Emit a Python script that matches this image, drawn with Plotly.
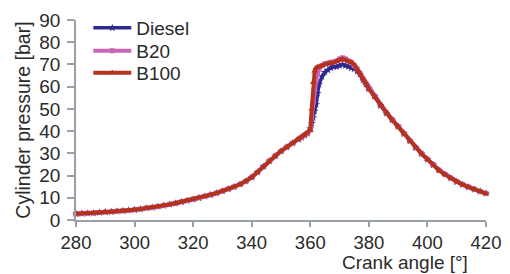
import plotly.graph_objects as go

crank_angle = [280, 282, 284, 286, 288, 290, 292, 294, 296, 298,
               300, 302, 304, 306, 308, 310, 312, 314, 316, 318,
               320, 322, 324, 326, 328, 330, 332, 334, 336, 338,
               340, 342, 344, 346, 348, 350, 352, 354, 356, 357,
               358, 359, 360, 360.5, 361, 361.5, 362, 362.5, 363, 364,
               365, 366, 367, 368, 369, 370, 371, 372, 373, 374,
               375, 376, 377, 378, 379, 380, 382, 384, 386, 388,
               390, 392, 394, 396, 398, 400, 402, 404, 406, 408,
               410, 412, 414, 416, 418, 420]

diesel = [2.8, 2.9, 3.0, 3.1, 3.3, 3.6, 3.7, 3.9, 4.1, 4.3,
          4.6, 4.9, 5.3, 5.6, 6.0, 6.5, 7.0, 7.5, 8.1, 8.7,
          9.3, 9.9, 10.6, 11.3, 12.1, 13.0, 13.9, 14.9, 16.0, 17.4,
          19.2, 21.5, 24.0, 26.5, 28.8, 30.9, 32.8, 34.6, 36.3, 37.2,
          38.1, 39.0, 41.0, 43.5, 46.0, 49.0, 52.0, 57.0, 61.0, 64.5,
          66.5, 67.5, 68.5, 69.0, 69.0, 69.5, 70.0, 69.5, 69.0, 68.5,
          68.0, 67.0, 65.5, 63.0, 61.0, 59.0, 55.5, 51.5, 48.0, 45.0,
          42.0, 38.8, 35.5, 32.5, 29.8, 27.3, 24.8, 22.3, 20.5, 18.8,
          17.2, 15.9, 14.8, 13.8, 12.8, 11.9]

b20 = [2.8, 2.9, 3.1, 3.1, 3.4, 3.6, 3.8, 3.9, 4.2, 4.3,
       4.7, 4.9, 5.4, 5.6, 6.1, 6.5, 7.1, 7.5, 8.2, 8.7,
       9.4, 10.0, 10.7, 11.3, 12.2, 13.0, 14.0, 14.9, 16.1, 17.4,
       19.3, 21.5, 24.1, 26.5, 28.9, 30.9, 32.9, 34.6, 36.4, 37.2,
       38.2, 39.1, 40.5, 46.0, 53.0, 59.0, 63.0, 66.0, 68.0, 69.5,
       70.3, 70.5, 71.0, 71.0, 71.5, 72.5, 73.0, 72.5, 71.5, 71.0,
       69.5, 68.0, 66.0, 63.5, 61.5, 59.5, 55.8, 51.8, 48.3, 45.2,
       42.2, 39.0, 35.7, 32.6, 30.0, 27.4, 24.9, 22.4, 20.6, 18.9,
       17.3, 16.0, 14.9, 13.9, 12.9, 12.0]

b100 = [2.8, 2.9, 3.0, 3.2, 3.3, 3.7, 3.7, 4.0, 4.1, 4.4,
        4.6, 5.0, 5.3, 5.7, 6.0, 6.6, 7.0, 7.6, 8.1, 8.8,
        9.3, 10.0, 10.6, 11.4, 12.1, 13.1, 13.9, 15.0, 16.0, 17.5,
        19.2, 21.6, 24.0, 26.6, 28.8, 31.0, 32.8, 34.7, 36.3, 37.3,
        38.1, 39.1, 40.5, 50.0, 62.0, 67.0, 68.5, 69.0, 69.0, 69.5,
        70.0, 70.5, 70.5, 71.0, 71.5, 72.0, 72.5, 72.0, 71.5, 71.0,
        70.0, 68.0, 66.0, 63.5, 61.5, 59.0, 55.5, 51.5, 48.0, 45.0,
        42.0, 38.8, 35.5, 32.5, 29.8, 27.3, 24.8, 22.3, 20.5, 18.8,
        17.2, 15.9, 14.8, 13.8, 12.8, 11.9]

x_ticks = [280, 300, 320, 340, 360, 380, 400, 420]
y_ticks = [0, 10, 20, 30, 40, 50, 60, 70, 80, 90]

FONT = "Liberation Sans, Arial, sans-serif"
TEXT = "#2a2a2a"
AXIS = "#9aa0a8"

fig = go.Figure()
fig.add_trace(go.Scatter(x=crank_angle, y=diesel, name="Diesel", mode="lines+markers",
                         line=dict(color="#2e2a8c", width=3.5),
                         marker=dict(symbol="star", size=6, color="#2e2a8c"),
                         cliponaxis=False, legend="legend"))
fig.add_trace(go.Scatter(x=crank_angle, y=b20, name="B20", mode="lines+markers",
                         line=dict(color="#c966b6", width=4),
                         marker=dict(symbol="square", size=5, color="#c966b6"),
                         cliponaxis=False, legend="legend2"))
fig.add_trace(go.Scatter(x=crank_angle, y=b100, name="B100", mode="lines+markers",
                         line=dict(color="#b5321f", width=4),
                         marker=dict(symbol="triangle-up", size=6, color="#b5321f"),
                         cliponaxis=False, legend="legend3"))

def legend_at(ypos):
    return dict(x=0.03, y=ypos, xanchor="left", yanchor="middle",
                bgcolor="rgba(0,0,0,0)", font=dict(size=19, color=TEXT),
                itemwidth=38)

# The page body adds an 8px offset, so the figure is drawn 8px smaller
fig.update_layout(
    width=502, height=266,
    margin=dict(l=68, r=24, t=12, b=54, autoexpand=False),
    paper_bgcolor="white", plot_bgcolor="white",
    font=dict(family=FONT, size=19, color=TEXT),
    showlegend=True,
    legend=legend_at(0.96),
    legend2=legend_at(0.845),
    legend3=legend_at(0.735),
    xaxis=dict(range=[280, 420], tickvals=x_ticks, showgrid=False, zeroline=False,
               showline=True, linecolor=AXIS, linewidth=1.5,
               ticks="outside", ticklen=5, tickcolor=AXIS, tickwidth=1.5,
               tickfont=dict(size=18.5, color=TEXT)),
    yaxis=dict(range=[0, 90], tickvals=y_ticks, showgrid=False, zeroline=False,
               showline=True, linecolor=AXIS, linewidth=1.5,
               ticks="outside", ticklen=7, tickcolor=AXIS, tickwidth=1.5,
               ticklabelstandoff=3,
               tickfont=dict(size=19, color=TEXT)),
    annotations=[
        dict(text="Crank angle [°]", xref="paper", yref="paper", x=0.803, y=-0.212,
             xanchor="center", yanchor="middle", showarrow=False,
             font=dict(size=19, color=TEXT)),
        dict(text="Cylinder pressure [bar]", xref="paper", yref="paper", x=-0.13, y=0.5,
             xanchor="center", yanchor="middle", textangle=-90, showarrow=False,
             font=dict(size=19.5, color=TEXT)),
    ],
)

fig.write_html("out.html")
